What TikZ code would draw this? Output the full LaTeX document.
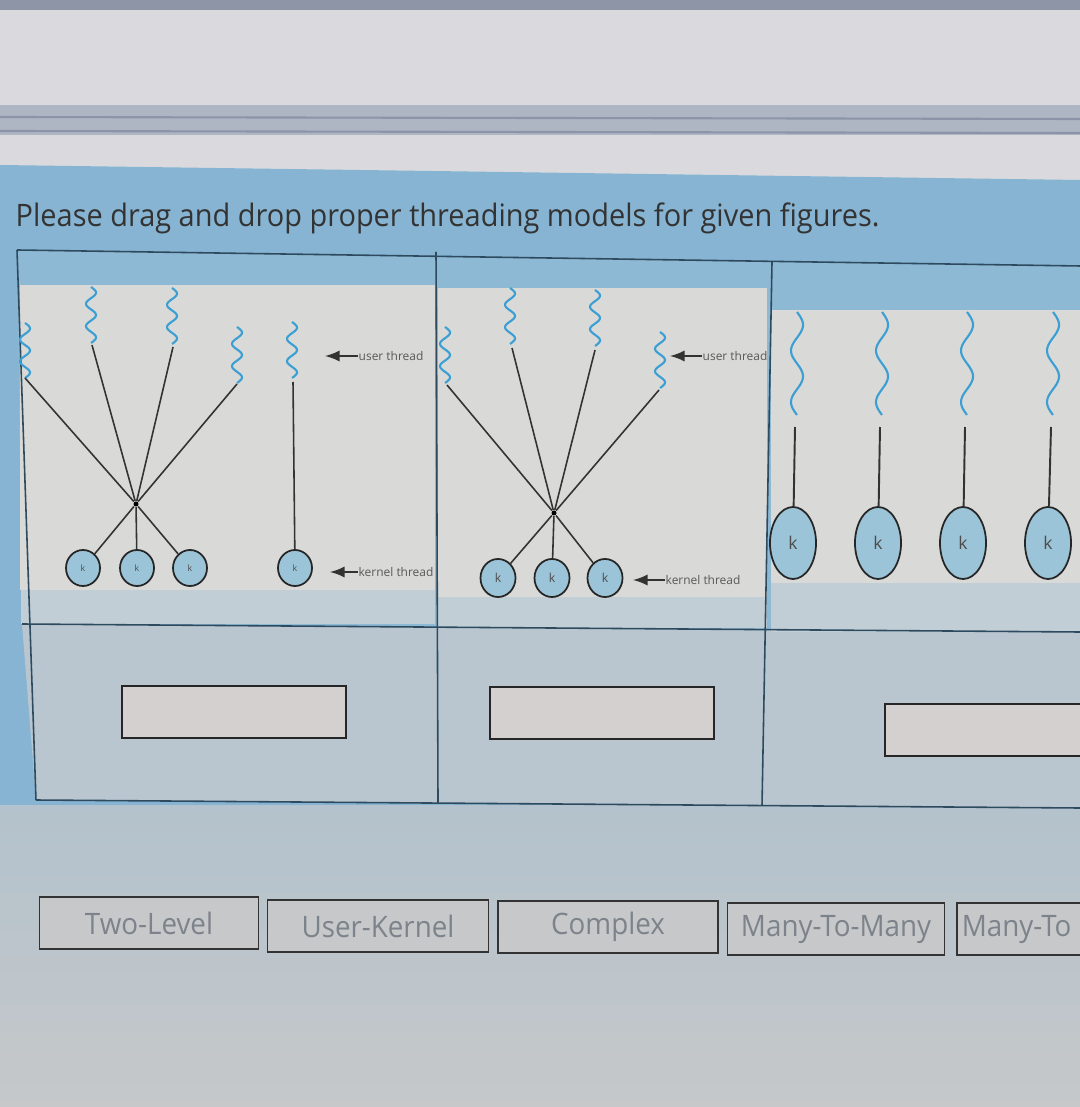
\documentclass[tikz,border=0pt]{standalone}
\usepackage{fontspec}
\setmainfont{Open Sans}
\usepackage{tikz}
\usetikzlibrary{shapes.geometric}
\definecolor{topbar}{HTML}{8D95A6}
\definecolor{pagebg}{HTML}{DADADE}
\definecolor{ruleband}{HTML}{AEB5C3}
\definecolor{ruleline}{HTML}{8C95A8}
\definecolor{headblue}{HTML}{86B4D2}
\definecolor{cellblue}{HTML}{8DB9D4}
\definecolor{panel}{HTML}{D9D9D8}
\definecolor{strip}{HTML}{C2CED6}
\definecolor{rowbg}{HTML}{B9C6CF}
\definecolor{lowtop}{HTML}{B3C2CC}
\definecolor{lowbg}{HTML}{C6C8CA}
\definecolor{grid}{HTML}{2E4A5F}
\definecolor{wavecol}{HTML}{3B9FD3}
\definecolor{kfill}{HTML}{9CC4D8}
\definecolor{boxfill}{HTML}{D4D0D0}
\definecolor{btntext}{HTML}{7D838B}
% user thread: wave from (x,y) downwards
\def\UThread(#1,#2) len #3 turns #4 amp #5; {
    \draw[uwave] plot[domain=0:1, samples=60, smooth] ({#1+#5*sin(#4*360*\x)}, {#2+#3*\x});
}

\begin{document}
\begin{tikzpicture}[x=0.01cm, y=-0.01cm,
    uwave/.style={draw=wavecol, line width=0.6pt},
    conn/.style={draw=black!80, line width=0.45pt},
    gridline/.style={draw=grid, line width=0.45pt},
    kthread/.style={ellipse, draw=black!85, fill=kfill, line width=0.5pt, inner sep=0pt,
        minimum width=0.34cm, minimum height=0.36cm, text=black!70, font=\fontsize{2.5}{3}\selectfont},
    kmid/.style={kthread, minimum width=0.35cm, minimum height=0.38cm, font=\fontsize{3.5}{4}\selectfont},
    kbig/.style={kthread, minimum width=0.46cm, minimum height=0.72cm, font=\fontsize{5}{6}\selectfont},
    jdot/.style={circle, fill=black, inner sep=0pt, minimum size=0.05cm},
    tag/.style={anchor=west, inner sep=0pt, text=black!65, font=\fontsize{3.4}{4}\selectfont},
    dropbox/.style={draw=black!85, fill=boxfill, line width=0.5pt, minimum width=2.24cm,
        minimum height=0.52cm, inner sep=0pt},
    choice/.style={draw=black!80, line width=0.5pt, fill=lowbg, minimum height=0.52cm,
        inner sep=0pt, text=btntext, font=\fontsize{8.4}{10}\selectfont}]
    \useasboundingbox (0,0) rectangle (1080,1107);

    % page background
    \fill[pagebg] (0,0) rectangle (1080,1107);
    \fill[topbar] (0,0) rectangle (1080,10);
    \fill[ruleband] (0,105) rectangle (1080,135);
    \draw[ruleline, line width=0.6pt] (0,117) -- (1080,119) (0,131) -- (1080,133);
    \fill[headblue] (0,165) -- (1080,180) -- (1080,1107) -- (0,1107) -- cycle;
    \shade[top color=lowtop, bottom color=lowbg] (0,805) rectangle (1080,1107);

    \node[anchor=base west, inner sep=0pt, text=black!80, font=\fontsize{8.8}{10}\selectfont]
        (title) at (15,227) {\scalebox{0.935}[1]{Please drag and drop proper threading models for given figures.}};

    % table cells
    \fill[cellblue] (17,250) -- (1080,266) -- (1080,632) -- (22,624) -- cycle;
    \fill[rowbg] (22,624) -- (1080,632) -- (1080,808) -- (36,800) -- cycle;
    \fill[panel] (20,285) rectangle (435,590);
    \fill[panel] (438,288) rectangle (767,597);
    \fill[panel] (771,310) rectangle (1080,583);
    \fill[strip] (21,590) rectangle (435,624);
    \fill[strip] (438,597) rectangle (767,628);
    \fill[strip] (771,583) rectangle (1080,632);
    \draw[gridline] (17,250) -- (1080,266);
    \draw[gridline] (22,624) -- (1080,632);
    \draw[gridline] (36,800) -- (1080,808);
    \draw[gridline] (17,250) -- (36,800);
    \draw[gridline] (436,252) -- (438,803);
    \draw[gridline] (772,262) -- (762,805);

    % figure 1
    \UThread(25,323) len 55 turns 2.5 amp 5;
    \UThread(91,287) len 56 turns 2.5 amp 5;
    \UThread(172,288) len 56 turns 2.5 amp 5;
    \UThread(237,327) len 56 turns 2.5 amp 5;
    \UThread(292,322) len 56 turns 2.5 amp 5;
    \coordinate (u11) at (25,378);
    \coordinate (u12) at (92,345);
    \coordinate (u13) at (173,347);
    \coordinate (u14) at (237,384);
    \coordinate (u15) at (293,382);
    \node[jdot] (j1) at (136,504) {};
    \node[kthread] (k11) at (83,568) {k};
    \node[kthread] (k12) at (137,568) {k};
    \node[kthread] (k13) at (190,568) {k};
    \node[kthread] (k14) at (295,568) {k};
    \foreach \u in {u11,u12,u13,u14} \draw[conn] (\u) -- (j1);
    \foreach \k in {k11,k12,k13} \draw[conn] (j1) -- (\k);
    \draw[conn] (u15) -- (k14);
    \node[tag] (ut1) at (358,356) {user thread};
    \coordinate (ut1a) at (325,356);
    \draw[conn, -latex] (ut1) -- (ut1a);
    \node[tag] (kt1) at (358,572) {kernel thread};
    \coordinate (kt1a) at (330,572);
    \draw[conn, -latex] (kt1) -- (kt1a);

    % figure 2
    \UThread(445,327) len 56 turns 2.5 amp 5;
    \UThread(510,288) len 56 turns 2.5 amp 5;
    \UThread(595,290) len 56 turns 2.5 amp 5;
    \UThread(660,332) len 56 turns 2.5 amp 5;
    \coordinate (u21) at (447,385);
    \coordinate (u22) at (512,348);
    \coordinate (u23) at (595,350);
    \coordinate (u24) at (659,390);
    \node[jdot] (j2) at (554,513) {};
    \node[kmid] (k21) at (498,578) {k};
    \node[kmid] (k22) at (552,578) {k};
    \node[kmid] (k23) at (605,578) {k};
    \foreach \u in {u21,u22,u23,u24} \draw[conn] (\u) -- (j2);
    \foreach \k in {k21,k22,k23} \draw[conn] (j2) -- (\k);
    \node[tag] (ut2) at (702,356) {user thread};
    \coordinate (ut2a) at (670,356);
    \draw[conn, -latex] (ut2) -- (ut2a);
    \node[tag] (kt2) at (665,580) {kernel thread};
    \coordinate (kt2a) at (633,580);
    \draw[conn, -latex] (kt2) -- (kt2a);

    % figure 3
    \foreach \i/\wx/\kx in {1/797/793, 2/882/878, 3/967/963, 4/1053/1048} {
        \UThread(\wx,312) len 103 turns 2 amp 6;
        \coordinate (t3\i) at (\wx-2,427);
        \node[kbig] (k3\i) at (\kx,543) {k};
        \draw[conn, line width=0.55pt] (t3\i) -- (k3\i);
    }

    % drop targets
    \node[dropbox] (ans1) at (234,712) {};
    \node[dropbox] (ans2) at (602,713) {};
    \node[dropbox, anchor=north west] (ans3) at (884,703) {};

    % answer choices
    \node[choice, minimum width=2.19cm] (b1) at (149,923) {\scalebox{0.94}[1]{Two-Level}};
    \node[choice, minimum width=2.21cm] (b2) at (378,926) {\scalebox{0.94}[1]{User-Kernel}};
    \node[choice, minimum width=2.20cm] (b3) at (608,927) {\scalebox{0.94}[1]{Complex}};
    \node[choice, minimum width=2.17cm] (b4) at (836,929) {\scalebox{0.94}[1]{Many-To-Many}};
    \node[choice, anchor=west, minimum width=1.6cm, text width=1.5cm, align=left,
        inner xsep=0.05cm] (b5) at (956,929) {\scalebox{0.94}[1]{Many-To}};
\end{tikzpicture}
\end{document}
